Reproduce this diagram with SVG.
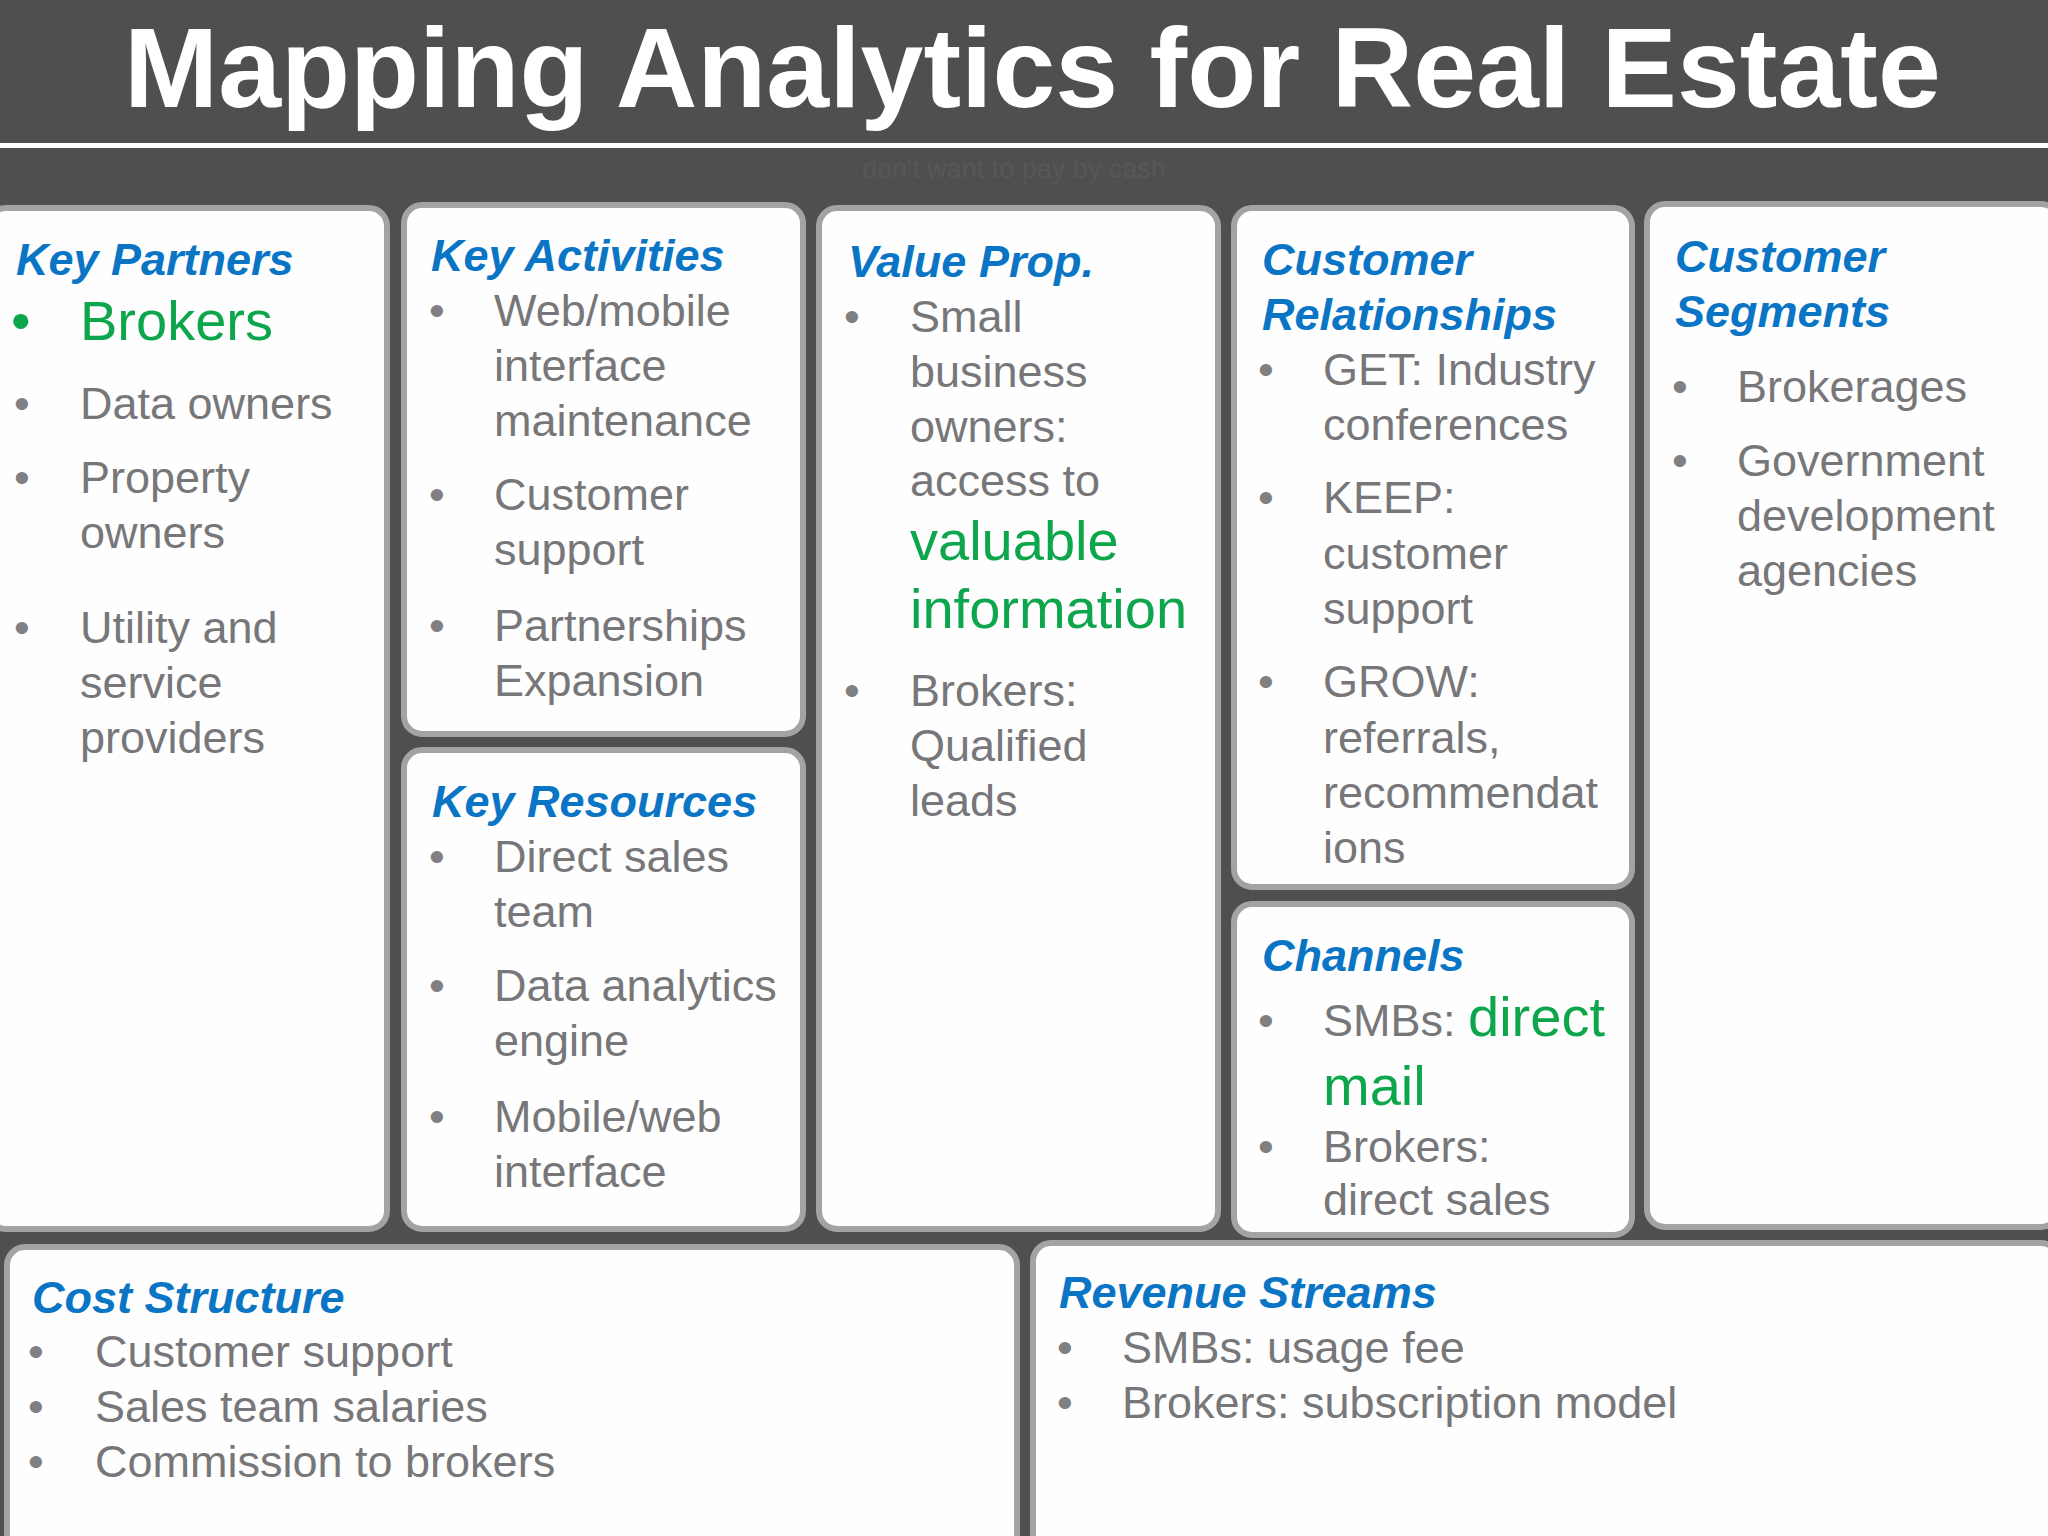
<svg xmlns="http://www.w3.org/2000/svg" width="2048" height="1536" viewBox="0 0 2048 1536">
<style>
.box{fill:#fefefe;stroke:#a3a3a5;stroke-width:6}
.h{font-family:"Liberation Sans",Arial,sans-serif;font-weight:bold;font-style:italic;font-size:45px;fill:#0b75c5}
.t{font-family:"Liberation Sans",Arial,sans-serif;font-size:45px;fill:#77777a}
.g{font-family:"Liberation Sans",Arial,sans-serif;font-size:56px;fill:#0ea64c}
.b{font-family:"Liberation Sans",Arial,sans-serif;font-size:45px;fill:#808083}
.title{font-family:"Liberation Sans",Arial,sans-serif;font-weight:bold;font-size:113px;fill:#ffffff}
</style>
<rect x="0" y="0" width="2048" height="1536" fill="#4f4f50"/>
<rect x="0" y="143" width="2048" height="5" fill="#ffffff"/>
<text class="title" x="124" y="107">Mapping Analytics for Real Estate</text>
<text x="862" y="178" font-family="Liberation Sans,Arial,sans-serif" font-size="27" fill="#575758">don't want to pay by cash</text>

<g id="key-partners">
<rect class="box" x="-12" y="208" width="399" height="1021" rx="18"/>
<text class="h" x="16" y="275">Key Partners</text>
<text x="11" y="340" font-family="Liberation Sans,Arial,sans-serif" font-size="56" fill="#0ea64c">•</text>
<text class="g" x="80" y="340">Brokers</text>
<text class="b" x="14" y="419">•</text><text class="t" x="80" y="419">Data owners</text>
<text class="b" x="14" y="493">•</text><text class="t" x="80" y="493">Property</text>
<text class="t" x="80" y="548">owners</text>
<text class="b" x="14" y="643">•</text><text class="t" x="80" y="643">Utility and</text>
<text class="t" x="80" y="698">service</text>
<text class="t" x="80" y="753">providers</text>
</g>

<g id="key-activities">
<rect class="box" x="404" y="205" width="399" height="529" rx="18"/>
<text class="h" x="431" y="271">Key Activities</text>
<text class="b" x="429" y="326">•</text><text class="t" x="494" y="326">Web/mobile</text>
<text class="t" x="494" y="381">interface</text>
<text class="t" x="494" y="436">maintenance</text>
<text class="b" x="429" y="510">•</text><text class="t" x="494" y="510">Customer</text>
<text class="t" x="494" y="565">support</text>
<text class="b" x="429" y="641">•</text><text class="t" x="494" y="641">Partnerships</text>
<text class="t" x="494" y="696">Expansion</text>
</g>

<g id="key-resources">
<rect class="box" x="404" y="750" width="399" height="479" rx="18"/>
<text class="h" x="432" y="817">Key Resources</text>
<text class="b" x="429" y="872">•</text><text class="t" x="494" y="872">Direct sales</text>
<text class="t" x="494" y="927">team</text>
<text class="b" x="429" y="1001">•</text><text class="t" x="494" y="1001">Data analytics</text>
<text class="t" x="494" y="1056">engine</text>
<text class="b" x="429" y="1132">•</text><text class="t" x="494" y="1132">Mobile/web</text>
<text class="t" x="494" y="1187">interface</text>
</g>

<g id="value-prop">
<rect class="box" x="819" y="208" width="399" height="1021" rx="18"/>
<text class="h" x="848" y="277">Value Prop.</text>
<text class="b" x="844" y="332">•</text><text class="t" x="910" y="332">Small</text>
<text class="t" x="910" y="387">business</text>
<text class="t" x="910" y="442">owners:</text>
<text class="t" x="910" y="496">access to</text>
<text class="g" x="910" y="560">valuable</text>
<text class="g" x="910" y="628">information</text>
<text class="b" x="844" y="706">•</text><text class="t" x="910" y="706">Brokers:</text>
<text class="t" x="910" y="761">Qualified</text>
<text class="t" x="910" y="816">leads</text>
</g>

<g id="customer-relationships">
<rect class="box" x="1234" y="208" width="398" height="679" rx="18"/>
<text class="h" x="1262" y="275">Customer</text>
<text class="h" x="1262" y="330">Relationships</text>
<text class="b" x="1258" y="385">•</text><text class="t" x="1323" y="385">GET: Industry</text>
<text class="t" x="1323" y="440">conferences</text>
<text class="b" x="1258" y="513">•</text><text class="t" x="1323" y="513">KEEP:</text>
<text class="t" x="1323" y="569">customer</text>
<text class="t" x="1323" y="624">support</text>
<text class="b" x="1258" y="697">•</text><text class="t" x="1323" y="697">GROW:</text>
<text class="t" x="1323" y="753">referrals,</text>
<text class="t" x="1323" y="808">recommendat</text>
<text class="t" x="1323" y="863">ions</text>
</g>

<g id="channels">
<rect class="box" x="1234" y="904" width="398" height="331" rx="18"/>
<text class="h" x="1262" y="971">Channels</text>
<text class="b" x="1258" y="1036">•</text><text class="t" x="1323" y="1036">SMBs: <tspan font-size="56" fill="#0ea64c">direct</tspan></text>
<text class="g" x="1323" y="1105">mail</text>
<text class="b" x="1258" y="1162">•</text><text class="t" x="1323" y="1162">Brokers:</text>
<text class="t" x="1323" y="1215">direct sales</text>
</g>

<g id="customer-segments">
<rect class="box" x="1647" y="204" width="412" height="1023" rx="18"/>
<text class="h" x="1675" y="272">Customer</text>
<text class="h" x="1675" y="327">Segments</text>
<text class="b" x="1672" y="402">•</text><text class="t" x="1737" y="402">Brokerages</text>
<text class="b" x="1672" y="476">•</text><text class="t" x="1737" y="476">Government</text>
<text class="t" x="1737" y="531">development</text>
<text class="t" x="1737" y="586">agencies</text>
</g>

<g id="cost-structure">
<rect class="box" x="7" y="1247" width="1010" height="320" rx="18"/>
<text class="h" x="32" y="1313">Cost Structure</text>
<text class="b" x="28" y="1367">•</text><text class="t" x="95" y="1367">Customer support</text>
<text class="b" x="28" y="1422">•</text><text class="t" x="95" y="1422">Sales team salaries</text>
<text class="b" x="28" y="1477">•</text><text class="t" x="95" y="1477">Commission to brokers</text>
</g>

<g id="revenue-streams">
<rect class="box" x="1033" y="1243" width="1026" height="320" rx="18"/>
<text class="h" x="1059" y="1308">Revenue Streams</text>
<text class="b" x="1057" y="1363">•</text><text class="t" x="1122" y="1363">SMBs: usage fee</text>
<text class="b" x="1057" y="1418">•</text><text class="t" x="1122" y="1418">Brokers: subscription model</text>
</g>

<g id="connectors"></g>
</svg>
